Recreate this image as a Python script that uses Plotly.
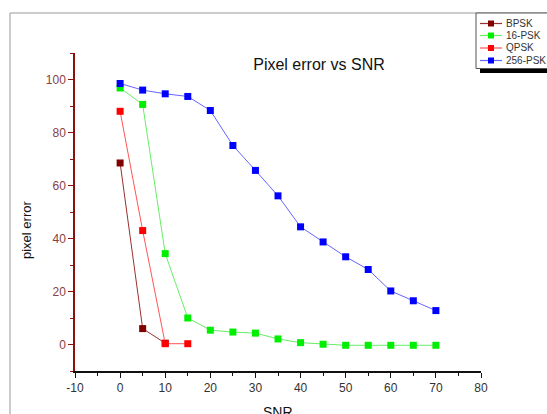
import plotly.graph_objects as go

snr_bpsk = [0, 5, 10]
bpsk = [68.5, 6.0, 0.5]
snr_16 = [0, 5, 10, 15, 20, 25, 30, 35, 40, 45, 50, 55, 60, 65, 70]
psk16 = [96.8, 90.6, 34.3, 10.0, 5.4, 4.7, 4.3, 2.1, 0.7, 0.1, -0.3, -0.3, -0.3, -0.3, -0.3]
snr_q = [0, 5, 10, 15]
qpsk = [88.0, 43.0, 0.3, 0.3]
snr_256 = [0, 5, 10, 15, 20, 25, 30, 35, 40, 45, 50, 55, 60, 65, 70]
psk256 = [98.5, 96.0, 94.6, 93.6, 88.3, 75.1, 65.7, 56.1, 44.4, 38.7, 33.1, 28.3, 20.2, 16.5, 12.8]

x_tickvals = [-10, 0, 10, 20, 30, 40, 50, 60, 70, 80]
x_ticktext = ["-10", "0", "10", "20", "30", "40", "50", "60", "70", "80"]

series_names = ["BPSK", "16-PSK", "QPSK", "256-PSK"]
series_x = [snr_bpsk, snr_16, snr_q, snr_256]
series_y = [bpsk, psk16, qpsk, psk256]
marker_colors = ["#800000", "#00ee00", "#ff0000", "#0000ff"]
line_colors = ["#9a3030", "#66ee66", "#ff5555", "#6666ff"]

fig = go.Figure()
for name, xs, ys, mc, lc in zip(series_names, series_x, series_y, marker_colors, line_colors):
    fig.add_trace(go.Scatter(
        x=xs, y=ys, name=name, mode="lines+markers", showlegend=False,
        line=dict(color=lc, width=1),
        marker=dict(symbol="square", size=7, color=mc),
    ))

# body margin is set to 0 below, so figure coords = screen coords
W, H = 547, 414
L, T = 75, 53
R, B = W - 481, H - 371
pw, ph = W - L - R, H - T - B

def px(x):
    return (x - L) / pw

def py(y):
    return (H - B - y) / ph

shapes = [
    dict(type="line", xref="paper", yref="paper", x0=px(10), x1=px(10),
         y0=py(13), y1=py(430), line=dict(color="#999", width=1)),
    dict(type="line", xref="paper", yref="paper", x0=px(10), x1=px(560),
         y0=py(13), y1=py(13), line=dict(color="#999", width=1)),
    # legend shadow and box
    dict(type="rect", xref="paper", yref="paper", x0=px(480), x1=px(560),
         y0=py(17), y1=py(73), fillcolor="black", line=dict(width=0)),
    dict(type="rect", xref="paper", yref="paper", x0=px(476), x1=px(560),
         y0=py(13), y1=py(68.5), fillcolor="white", line=dict(color="#555", width=1)),
]
annotations = [
    dict(text="pixel error", x=px(26), y=py(230), xref="paper", yref="paper",
         xanchor="center", yanchor="middle",
         showarrow=False, textangle=-90, font=dict(size=13, color="#111")),
    dict(text="SNR", x=px(278), y=py(412), xref="paper", yref="paper",
         xanchor="center", yanchor="middle",
         showarrow=False, font=dict(size=14, color="#111")),
]

legend_rows = [23.5, 35.5, 48, 60.5]
for name, mc, lc, ry in zip(series_names, marker_colors, line_colors, legend_rows):
    shapes.append(dict(type="line", xref="paper", yref="paper", x0=px(480), x1=px(502),
                       y0=py(ry), y1=py(ry), line=dict(color=lc, width=1.2)))
    shapes.append(dict(type="rect", xref="paper", yref="paper", x0=px(488), x1=px(494),
                       y0=py(ry - 3), y1=py(ry + 3), fillcolor=mc, line=dict(width=0)))
    annotations.append(dict(text=name, x=px(504), y=py(ry), xref="paper", yref="paper",
                            xanchor="left", yanchor="middle", showarrow=False,
                            font=dict(size=10, color="#333")))

fig.update_layout(
    width=W, height=H,
    margin=dict(l=L, r=R, t=T, b=B, autoexpand=False),
    paper_bgcolor="white", plot_bgcolor="white",
    font=dict(family="Liberation Sans, Arial, sans-serif", color="#222"),
    title=dict(text="Pixel error vs SNR", x=319 / W, xanchor="center",
               y=1 - 64 / H, yanchor="middle", font=dict(size=16, color="#111")),
    showlegend=False,
    xaxis=dict(range=[-10, 80], tickvals=x_tickvals, ticktext=x_ticktext,
               showgrid=False, zeroline=False,
               showline=True, linecolor="#111", linewidth=1.5, ticks="outside",
               ticklen=5, tickcolor="#111", tickfont=dict(size=12, color="#333"),
               minor=dict(tick0=-10, dtick=5, ticks="outside", ticklen=3, tickcolor="#111")),
    yaxis=dict(range=[-10, 110], tick0=0, dtick=20, showgrid=False, zeroline=False,
               showline=True, linecolor="#8b1010", linewidth=1.5, ticks="outside",
               ticklen=5, tickcolor="#8b1010", tickfont=dict(size=12, color="#8a4040"),
               minor=dict(dtick=10, ticks="outside", ticklen=3, tickcolor="#8b1010")),
    annotations=annotations,
    shapes=shapes,
)

fig.write_html(
    "out.html",
    config={"displayModeBar": False},
    post_script="document.body.style.margin='0px';document.body.style.overflow='hidden';",
)
